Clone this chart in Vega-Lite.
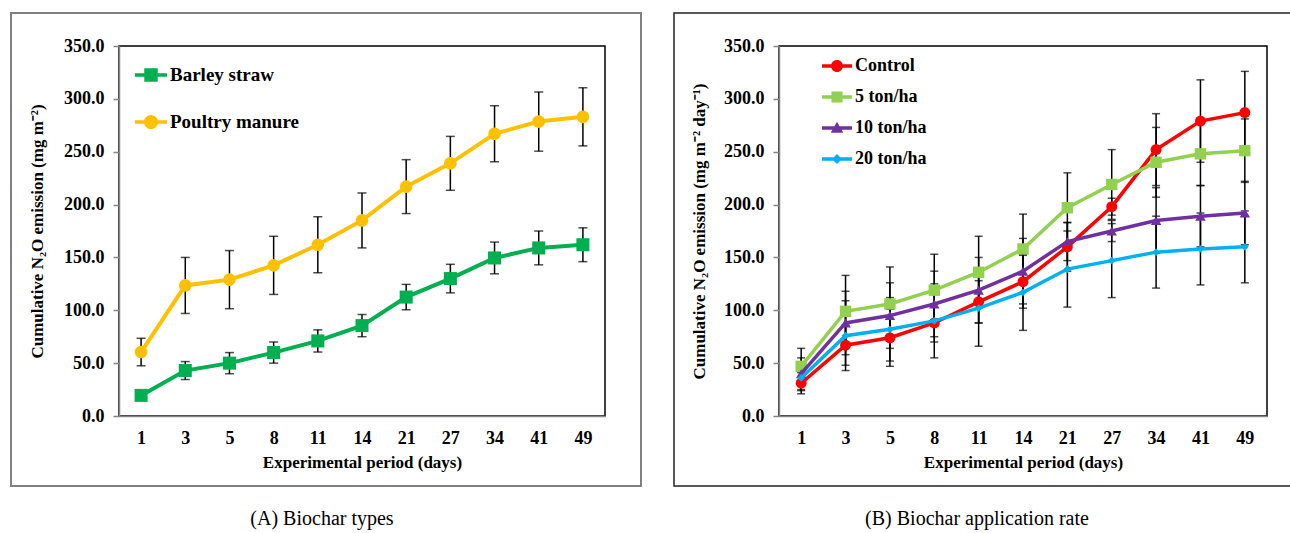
{
  "$schema": "https://vega.github.io/schema/vega-lite/v6.json",
  "autosize": {"type": "pad"},
  "padding": {"left": 9, "top": 11, "right": 0, "bottom": 0},
  "background": "white",
  "config": {
    "view": {"stroke": "black", "strokeWidth": 1.5},
    "font": "Liberation Serif",
    "axis": {
      "grid": false,
      "domainColor": "#868686",
      "domainWidth": 1.5,
      "tickColor": "#868686",
      "tickWidth": 1.5,
      "labelFont": "Liberation Serif",
      "labelFontWeight": "bold",
      "labelFontSize": 18,
      "labelColor": "black",
      "titleFont": "Liberation Serif",
      "titleFontWeight": "bold",
      "titleFontSize": 17,
      "titleColor": "black"
    },
    "legend": {"padding": 0, "symbolStrokeWidth": 0, "labelColor": "black", "labelFont": "Liberation Serif", "labelFontWeight": "bold"},
    "title": {"font": "Liberation Serif", "fontSize": 20, "fontWeight": "normal", "color": "black", "orient": "bottom", "anchor": "middle", "offset": 22}
  },
  "datasets": {
    "a": [
      {"day": 1, "series": "Barley straw", "value": 19.5, "err": 0},
      {"day": 3, "series": "Barley straw", "value": 43, "err": 8.5},
      {"day": 5, "series": "Barley straw", "value": 50, "err": 10},
      {"day": 8, "series": "Barley straw", "value": 60, "err": 10},
      {"day": 11, "series": "Barley straw", "value": 71, "err": 10.5},
      {"day": 14, "series": "Barley straw", "value": 85.5, "err": 10.5},
      {"day": 21, "series": "Barley straw", "value": 112.5, "err": 12},
      {"day": 27, "series": "Barley straw", "value": 130, "err": 13.5},
      {"day": 34, "series": "Barley straw", "value": 149.5, "err": 15},
      {"day": 41, "series": "Barley straw", "value": 159, "err": 16},
      {"day": 49, "series": "Barley straw", "value": 162, "err": 16},
      {"day": 1, "series": "Poultry manure", "value": 60.5, "err": 13},
      {"day": 3, "series": "Poultry manure", "value": 123.5, "err": 26.5},
      {"day": 5, "series": "Poultry manure", "value": 129, "err": 27.5},
      {"day": 8, "series": "Poultry manure", "value": 142.5, "err": 27.5},
      {"day": 11, "series": "Poultry manure", "value": 162, "err": 26.5},
      {"day": 14, "series": "Poultry manure", "value": 185, "err": 26},
      {"day": 21, "series": "Poultry manure", "value": 217, "err": 25.5},
      {"day": 27, "series": "Poultry manure", "value": 239, "err": 25.5},
      {"day": 34, "series": "Poultry manure", "value": 267, "err": 26.5},
      {"day": 41, "series": "Poultry manure", "value": 278.5, "err": 28},
      {"day": 49, "series": "Poultry manure", "value": 283, "err": 27.5}
    ],
    "b": [
      {"day": 1, "series": "Control", "value": 31, "err": 10},
      {"day": 3, "series": "Control", "value": 67, "err": 19},
      {"day": 5, "series": "Control", "value": 74, "err": 27},
      {"day": 8, "series": "Control", "value": 88, "err": 18},
      {"day": 11, "series": "Control", "value": 108, "err": 20},
      {"day": 14, "series": "Control", "value": 127, "err": 25},
      {"day": 21, "series": "Control", "value": 160, "err": 23},
      {"day": 27, "series": "Control", "value": 198, "err": 8},
      {"day": 34, "series": "Control", "value": 252, "err": 34},
      {"day": 41, "series": "Control", "value": 279, "err": 39},
      {"day": 49, "series": "Control", "value": 287, "err": 39},
      {"day": 1, "series": "5 ton/ha", "value": 47, "err": 17},
      {"day": 3, "series": "5 ton/ha", "value": 99, "err": 34},
      {"day": 5, "series": "5 ton/ha", "value": 106, "err": 35},
      {"day": 8, "series": "5 ton/ha", "value": 119, "err": 34},
      {"day": 11, "series": "5 ton/ha", "value": 136, "err": 34},
      {"day": 14, "series": "5 ton/ha", "value": 158, "err": 33},
      {"day": 21, "series": "5 ton/ha", "value": 197, "err": 33},
      {"day": 27, "series": "5 ton/ha", "value": 219, "err": 33},
      {"day": 34, "series": "5 ton/ha", "value": 240, "err": 33},
      {"day": 41, "series": "5 ton/ha", "value": 248, "err": 30},
      {"day": 49, "series": "5 ton/ha", "value": 251, "err": 30},
      {"day": 1, "series": "10 ton/ha", "value": 40, "err": 15},
      {"day": 3, "series": "10 ton/ha", "value": 88, "err": 30},
      {"day": 5, "series": "10 ton/ha", "value": 95, "err": 31},
      {"day": 8, "series": "10 ton/ha", "value": 106, "err": 31},
      {"day": 11, "series": "10 ton/ha", "value": 119, "err": 31},
      {"day": 14, "series": "10 ton/ha", "value": 137, "err": 31},
      {"day": 21, "series": "10 ton/ha", "value": 165, "err": 18},
      {"day": 27, "series": "10 ton/ha", "value": 175, "err": 10},
      {"day": 34, "series": "10 ton/ha", "value": 185, "err": 31},
      {"day": 41, "series": "10 ton/ha", "value": 189, "err": 29},
      {"day": 49, "series": "10 ton/ha", "value": 192, "err": 30},
      {"day": 1, "series": "20 ton/ha", "value": 36, "err": 12},
      {"day": 3, "series": "20 ton/ha", "value": 76, "err": 33},
      {"day": 5, "series": "20 ton/ha", "value": 82, "err": 30},
      {"day": 8, "series": "20 ton/ha", "value": 90, "err": 35},
      {"day": 11, "series": "20 ton/ha", "value": 102, "err": 36},
      {"day": 14, "series": "20 ton/ha", "value": 117, "err": 36},
      {"day": 21, "series": "20 ton/ha", "value": 139, "err": 36},
      {"day": 27, "series": "20 ton/ha", "value": 147, "err": 35},
      {"day": 34, "series": "20 ton/ha", "value": 155, "err": 34},
      {"day": 41, "series": "20 ton/ha", "value": 158, "err": 34},
      {"day": 49, "series": "20 ton/ha", "value": 160, "err": 34}
    ]
  },
  "spacing": 174,
  "bounds": "flush",
  "resolve": {"scale": {"x": "independent", "y": "independent", "color": "independent", "shape": "independent"}},
  "hconcat": [
    {
      "width": 486,
      "height": 370,
      "title": {"text": "(A) Biochar types", "dx": -40},
      "data": {"name": "a"},
      "encoding": {
        "x": {"field": "day", "type": "ordinal", "scale": {"type": "point", "padding": 0.5},
              "axis": {"title": "Experimental period (days)", "labelAngle": 0, "ticks": false, "tickSize": 0, "labelPadding": 13, "titlePadding": 7}},
        "y": {"field": "value", "type": "quantitative", "scale": {"domain": [0, 350], "nice": false},
              "axis": {"values": [0, 50, 100, 150, 200, 250, 300, 350], "format": ".1f", "title": "Cumulative N₂O emission (mg m⁻²)", "tickSize": 6, "labelPadding": 9, "titlePadding": 17}}
      },
      "layer": [
        {
          "data": {"values": [{}]},
          "mark": {"type": "rect", "filled": false, "stroke": "#808080", "strokeWidth": 2},
          "encoding": {"x": {"value": -108}, "x2": {"value": 522}, "y": {"value": -33}, "y2": {"value": 440}}
        },
        {
          "mark": {"type": "errorbar", "ticks": {"size": 9}, "thickness": 1.5, "color": "black"},
          "encoding": {"yError": {"field": "err"}}
        },
        {
          "transform": [{"filter": "datum.series === 'Barley straw'"}],
          "mark": {"type": "line", "strokeWidth": 4, "color": "#00B050"}
        },
        {
          "transform": [{"filter": "datum.series === 'Poultry manure'"}],
          "mark": {"type": "line", "strokeWidth": 4, "color": "#FFC000"}
        },
        {
          "transform": [{"filter": "datum.series === 'Barley straw'"}],
          "mark": {"type": "point", "shape": "square", "filled": true, "opacity": 1, "size": 170, "color": "#00B050"}
        },
        {
          "transform": [{"filter": "datum.series === 'Poultry manure'"}],
          "mark": {"type": "point", "shape": "circle", "filled": true, "opacity": 1, "size": 160, "color": "#FFC000"}
        },
        {
          "transform": [{"filter": "false"}],
          "mark": {"type": "point", "filled": true, "opacity": 1},
          "encoding": {
            "color": {"field": "series", "type": "nominal", "scale": {"domain": ["Barley straw", "Poultry manure"], "range": ["#00B050", "#FFC000"]},
                      "legend": {"title": null, "orient": "none", "legendX": 16, "legendY": 13, "symbolSize": 1024, "labelFont": "Liberation Serif", "labelFontWeight": "bold", "labelFontSize": 19, "labelOffset": 3, "rowPadding": 21}},
            "shape": {"field": "series", "type": "nominal",
                      "scale": {"domain": ["Barley straw", "Poultry manure"], "range": [
                        "M-1,-0.11 H1 V0.11 H-1 Z M-0.42,-0.42 H0.42 V0.42 H-0.42 Z",
                        "M-1,-0.11 H1 V0.11 H-1 Z M-0.44,0 A0.44,0.44 0 1,1 0.44,0 A0.44,0.44 0 1,1 -0.44,0 Z"]},
                      "legend": {"title": null, "orient": "none", "legendX": 16, "legendY": 13, "symbolSize": 1024, "labelFont": "Liberation Serif", "labelFontWeight": "bold", "labelFontSize": 19, "labelOffset": 3, "rowPadding": 21}}
          }
        }
      ]
    },
    {
      "width": 488,
      "height": 370,
      "title": {"text": "(B) Biochar application rate", "dx": -46},
      "data": {"name": "b"},
      "encoding": {
        "x": {"field": "day", "type": "ordinal", "scale": {"type": "point", "padding": 0.5},
              "axis": {"title": "Experimental period (days)", "labelAngle": 0, "ticks": false, "tickSize": 0, "labelPadding": 13, "titlePadding": 7}},
        "y": {"field": "value", "type": "quantitative", "scale": {"domain": [0, 350], "nice": false},
              "axis": {"values": [0, 50, 100, 150, 200, 250, 300, 350], "format": ".1f", "title": "Cumulative N₂O emission (mg m⁻² day⁻¹)", "tickSize": 6, "labelPadding": 9, "titlePadding": 15}}
      },
      "layer": [
        {
          "data": {"values": [{}]},
          "mark": {"type": "rect", "filled": false, "stroke": "#222222", "strokeWidth": 1.5},
          "encoding": {"x": {"value": -105}, "x2": {"value": 512}, "y": {"value": -33}, "y2": {"value": 440}}
        },
        {
          "mark": {"type": "errorbar", "ticks": {"size": 8}, "thickness": 1.5, "color": "black"},
          "encoding": {"yError": {"field": "err"}}
        },
        {
          "transform": [{"filter": "datum.series === 'Control'"}],
          "mark": {"type": "line", "strokeWidth": 3.5, "color": "#FF0000"}
        },
        {
          "transform": [{"filter": "datum.series === 'Control'"}],
          "mark": {"type": "point", "shape": "circle", "filled": true, "opacity": 1, "size": 120, "color": "#FF0000"}
        },
        {
          "transform": [{"filter": "datum.series === '5 ton/ha'"}],
          "mark": {"type": "line", "strokeWidth": 3.5, "color": "#92D050"}
        },
        {
          "transform": [{"filter": "datum.series === '5 ton/ha'"}],
          "mark": {"type": "point", "shape": "square", "filled": true, "opacity": 1, "size": 130, "color": "#92D050"}
        },
        {
          "transform": [{"filter": "datum.series === '10 ton/ha'"}],
          "mark": {"type": "line", "strokeWidth": 3.5, "color": "#7030A0"}
        },
        {
          "transform": [{"filter": "datum.series === '10 ton/ha'"}],
          "mark": {"type": "point", "shape": "triangle-up", "filled": true, "opacity": 1, "size": 110, "color": "#7030A0"}
        },
        {
          "transform": [{"filter": "datum.series === '20 ton/ha'"}],
          "mark": {"type": "line", "strokeWidth": 3.5, "color": "#00B0F0"}
        },
        {
          "transform": [{"filter": "datum.series === '20 ton/ha'"}],
          "mark": {"type": "point", "shape": "diamond", "filled": true, "opacity": 1, "size": 60, "color": "#00B0F0"}
        },
        {
          "transform": [{"filter": "false"}],
          "mark": {"type": "point", "filled": true, "opacity": 1},
          "encoding": {
            "color": {"field": "series", "type": "nominal", "scale": {"domain": ["Control", "5 ton/ha", "10 ton/ha", "20 ton/ha"], "range": ["#FF0000", "#92D050", "#7030A0", "#00B0F0"]},
                      "legend": {"title": null, "orient": "none", "legendX": 43, "legendY": 5, "symbolSize": 900, "labelFont": "Liberation Serif", "labelFontWeight": "bold", "labelFontSize": 18, "labelOffset": 3, "rowPadding": 7}},
            "shape": {"field": "series", "type": "nominal",
                      "scale": {"domain": ["Control", "5 ton/ha", "10 ton/ha", "20 ton/ha"], "range": [
                        "M-1,-0.12 H1 V0.12 H-1 Z M-0.4,0 A0.4,0.4 0 1,1 0.4,0 A0.4,0.4 0 1,1 -0.4,0 Z",
                        "M-1,-0.12 H1 V0.12 H-1 Z M-0.37,-0.37 H0.37 V0.37 H-0.37 Z",
                        "M-1,-0.12 H1 V0.12 H-1 Z M0,-0.42 L0.42,0.32 L-0.42,0.32 Z",
                        "M-1,-0.12 H1 V0.12 H-1 Z M0,-0.33 L0.33,0 L0,0.33 L-0.33,0 Z"]},
                      "legend": {"title": null, "orient": "none", "legendX": 43, "legendY": 5, "symbolSize": 900, "labelFont": "Liberation Serif", "labelFontWeight": "bold", "labelFontSize": 18, "labelOffset": 3, "rowPadding": 7}}
          }
        }
      ]
    }
  ]
}
